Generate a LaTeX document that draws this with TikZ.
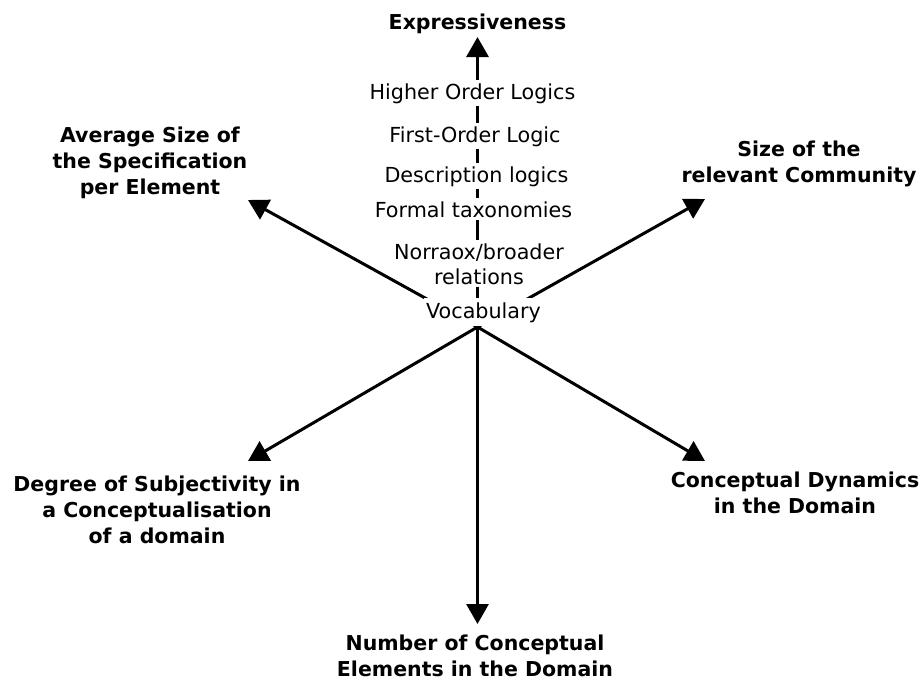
\documentclass[tikz,border=0pt]{standalone}
\usepackage{fontspec}
\setmainfont{DejaVu Sans}
\usetikzlibrary{arrows.meta}
\begin{document}
\begin{tikzpicture}[x=1pt,y=-1pt,
  axis/.style={line width=3pt,-{Triangle[length=20pt,width=22pt]}},
  level/.style={fill=white,inner xsep=2pt,inner ysep=3pt,anchor=base,align=center,
    font=\fontsize{20.7}{25}\selectfont},
  dimlabel/.style={inner sep=0pt,anchor=base,align=center,
    font=\fontsize{20.5}{26}\selectfont\bfseries}]
\useasboundingbox (0,0) rectangle (923,680);

% origin of all axes and the arrow tips
\coordinate (o)   at (477.5,327);
\coordinate (tN)  at (477.5,37);
\coordinate (tNW) at (248,200);
\coordinate (tNE) at (705,199);
\coordinate (tSW) at (248,461);
\coordinate (tSE) at (705,461);
\coordinate (tS)  at (477.5,624);

% expressiveness axis, partly hidden behind the levels
\draw[axis] (o) -- (tN);

% levels of expressiveness along the vertical axis
% (a multi-line node sits on the baseline of its last line)
\node[level] (hol) at (472.5,99)  {Higher Order Logics};
\node[level] (fol) at (475,142)   {First-Order Logic};
\node[level] (dl)  at (476.5,182) {Description logics};
\node[level] (ft)  at (473.5,217) {Formal taxonomies};
\node[level] (nb)  at (479,284)   {Norraox/broader\\relations};

% the other dimensions
\draw[axis] (o) -- (tNW);
\draw[axis] (o) -- (tNE);
\draw[axis] (o) -- (tSW);
\draw[axis] (o) -- (tSE);
\draw[axis] (o) -- (tS);

\node[level,inner ysep=4pt] (voc) at (483.5,318) {Vocabulary};

% dimension labels
\node[dimlabel] (expr) at (477.5,29)  {Expressiveness};
\node[dimlabel] (avg)  at (150,194)   {Average Size of\\the Specification\\per Element};
\node[dimlabel] (comm) at (799,182.5) {Size of the\\relevant Community};
\node[dimlabel] (subj) at (157,543)   {Degree of Subjectivity in\\a Conceptualisation\\of a domain};
\node[dimlabel] (dyn)  at (795,513)   {Conceptual Dynamics\\in the Domain};
\node[dimlabel] (num)  at (475,676.5) {Number of Conceptual\\Elements in the Domain};
\end{tikzpicture}
\end{document}
